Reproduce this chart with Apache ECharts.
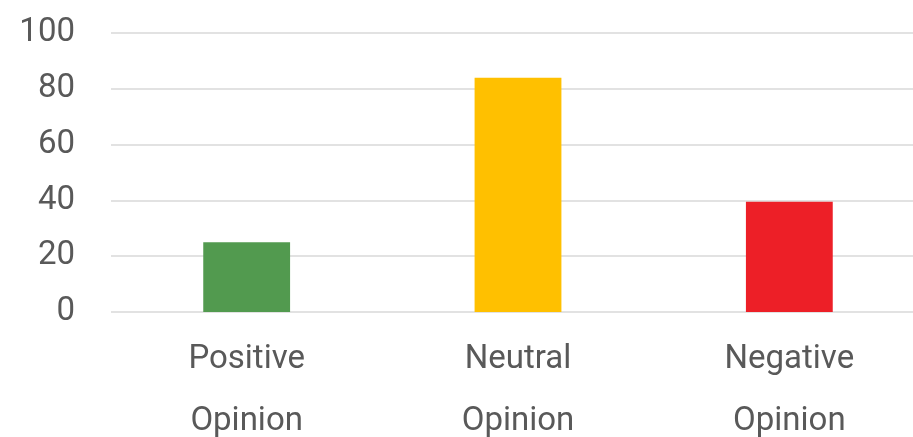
<!DOCTYPE html>
<html>
<head>
<meta charset="utf-8">
<script src="https://cdn.jsdelivr.net/npm/echarts@6/dist/echarts.min.js"></script>
<style>html,body{margin:0;padding:0;background:#fff}#c{width:913px;height:437px}</style>
</head>
<body>
<div id="c"></div>
<script>
var categories = ['Positive\nOpinion', 'Neutral\nOpinion', 'Negative\nOpinion'];
var values = [25, 84, 39.5];
var barColors = ['#529A4F', '#FFC000', '#ED1F27'];
var yTicks = [0, 20, 40, 60, 80, 100];

var chart = echarts.init(document.getElementById('c'), null, {renderer: 'canvas'});
chart.setOption({
  animation: false,
  grid: {left: 111, right: -12, top: 33, bottom: 437 - 312, outerBoundsMode: 'none', containLabel: false},
  xAxis: {
    type: 'category',
    data: categories,
    axisLine: {show: false},
    axisTick: {show: false},
    axisLabel: {color: '#595959', fontSize: 33, fontFamily: 'Roboto', lineHeight: 62, margin: 17}
  },
  yAxis: {
    type: 'value',
    min: yTicks[0],
    max: yTicks[yTicks.length - 1],
    interval: 20,
    axisLine: {show: false},
    axisTick: {show: false},
    axisLabel: {color: '#595959', fontSize: 33, fontFamily: 'Roboto', margin: 36},
    splitLine: {lineStyle: {color: '#d9d9d9', width: 1.5}}
  },
  series: [{
    type: 'bar',
    barWidth: '32%',
    data: values.map(function (v, i) { return {value: v, itemStyle: {color: barColors[i]}}; })
  }]
});
</script>
</body>
</html>
